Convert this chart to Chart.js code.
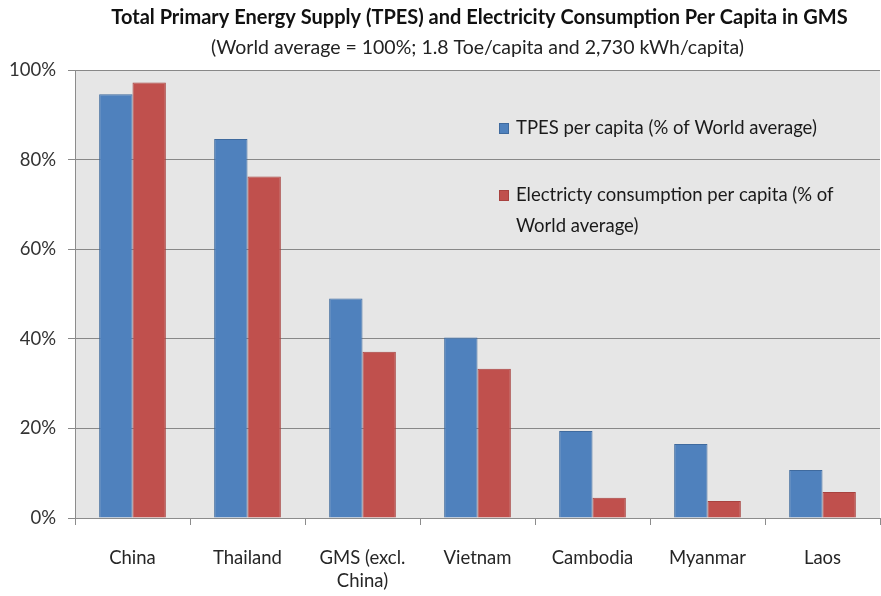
<!DOCTYPE html>
<html>
<head>
<meta charset="utf-8">
<script src="https://cdn.jsdelivr.net/npm/chart.js@4/dist/chart.umd.min.js"></script>
<style>
html,body{margin:0;padding:0;background:#fff;}
#wrap{width:881px;height:596px;position:relative;}
</style>
</head>
<body>
<div id="wrap"><canvas id="c" width="881" height="596"></canvas></div>
<script>
const categories = ["China", "Thailand", ["GMS (excl.", "China)"], "Vietnam", "Cambodia", "Myanmar", "Laos"];
const tpesPerCapita = [94.6, 84.6, 49.0, 40.3, 19.4, 16.5, 10.7];
const electricityPerCapita = [97.2, 76.2, 37.1, 33.3, 4.5, 3.8, 5.8];
const seriesNames = ["TPES per capita (% of World average)", ["Electricty consumption per capita (% of", "World average)"]];
const yTicks = [0, 20, 40, 60, 80, 100];
const titleText = "Total Primary Energy Supply (TPES) and Electricity Consumption Per Capita in GMS";
const subtitleText = "(World average = 100%; 1.8 Toe/capita and 2,730 kWh/capita)";

const FONT = "Lato, 'Open Sans', sans-serif";

const bgPlugin = {
  id: 'bg',
  beforeDraw(chart) {
    const a = chart.chartArea, ctx = chart.ctx;
    ctx.save();
    ctx.fillStyle = '#E6E6E6';
    ctx.fillRect(a.left, a.top, a.right - a.left, a.bottom - a.top);
    ctx.restore();
  }
};

const titlePlugin = {
  id: 'titles',
  afterDraw(chart) {
    const a = chart.chartArea, ctx = chart.ctx;
    const cx = (a.left + a.right) / 2;
    ctx.save();
    ctx.fillStyle = '#111';
    ctx.textAlign = 'center';
    ctx.textBaseline = 'middle';
    ctx.font = "bold 20px " + FONT;
    ctx.fillText(titleText, cx + 2, 18);
    ctx.font = "19.5px " + FONT;
    ctx.fillStyle = '#222';
    ctx.fillText(subtitleText, cx, 48);
    ctx.restore();
  }
};

const legendPlugin = {
  id: 'inlegend',
  afterDatasetsDraw(chart) {
    const ctx = chart.ctx;
    const x0 = 499;
    const ys = [128, 195];
    ctx.save();
    ctx.font = "18.5px " + FONT;
    ctx.textBaseline = 'middle';
    ctx.textAlign = 'left';
    chart.data.datasets.forEach((ds, i) => {
      const y = ys[i];
      ctx.fillStyle = ds.backgroundColor;
      ctx.fillRect(x0, y - 5, 10, 11);
      ctx.strokeStyle = ds.borderColor;
      ctx.lineWidth = 1;
      ctx.strokeRect(x0 + 0.5, y - 4.5, 9, 10);
      ctx.fillStyle = '#1a1a1a';
      const lines = Array.isArray(ds.label) ? ds.label : [ds.label];
      lines.forEach((t, k) => ctx.fillText(t, x0 + 17, y + k * 31));
    });
    ctx.restore();
  }
};

new Chart(document.getElementById('c'), {
  type: 'bar',
  data: {
    labels: categories,
    datasets: [
      { label: seriesNames[0], data: tpesPerCapita, backgroundColor: '#4F81BD', borderColor: '#3F6A9E', borderWidth: 1, categoryPercentage: 0.58, barPercentage: 1.0 },
      { label: seriesNames[1], data: electricityPerCapita, backgroundColor: '#C0504D', borderColor: '#A8423F', borderWidth: 1, categoryPercentage: 0.58, barPercentage: 1.0 }
    ]
  },
  plugins: [bgPlugin, legendPlugin, titlePlugin],
  options: {
    responsive: false,
    animation: false,
    layout: { padding: { top: 70, right: 1, left: 0, bottom: 0 } },
    plugins: { legend: { display: false }, tooltip: { enabled: false }, title: { display: false } },
    scales: {
      x: {
        grid: { display: true, drawOnChartArea: false, drawTicks: true, tickLength: 7, color: '#8c8c8c', offset: true },
        border: { display: true, color: '#8c8c8c' },
        ticks: { color: '#262626', font: { family: FONT, size: 18.5, lineHeight: 1.25 }, padding: 21, maxRotation: 0, autoSkip: false },
        afterFit(s) { s.height = 78; }
      },
      y: {
        min: 0, max: 100,
        afterBuildTicks(s) { s.ticks = yTicks.map(v => ({ value: v })); },
        grid: { color: '#888888', drawTicks: true, tickLength: 7 },
        border: { display: true, color: '#8c8c8c' },
        ticks: { color: '#333333', font: { family: FONT, size: 18.5 }, padding: 12, callback: v => v + '%' },
        afterFit(s) { s.width = 75; }
      }
    }
  }
});
</script>
</body>
</html>
